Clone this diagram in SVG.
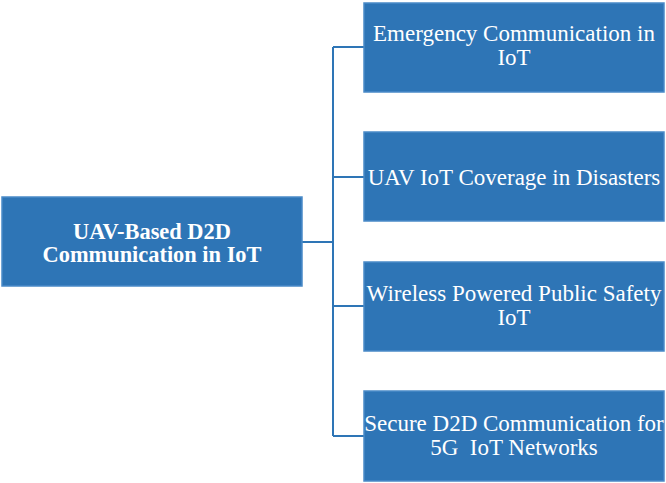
<svg xmlns="http://www.w3.org/2000/svg" width="666" height="483" viewBox="0 0 666 483">
<style>
.box{fill:#2E75B6;stroke:#4A8AC8;stroke-width:1.5}
.t{font-family:"Liberation Serif","Times New Roman",serif;fill:#fff;font-size:23px;text-anchor:middle}
.b{font-weight:bold;font-size:22.4px}
.c{fill:none;stroke:#2E75B6;stroke-width:2}
</style>
<rect width="666" height="483" fill="#fff"/>
<g id="connectors">
<path class="c" d="M302 242H333M333 47V436M333 47H364M333 177H364M333 306H364M333 436H364"/>
</g>
<g id="root">
<rect class="box" x="2" y="197" width="300" height="89"/>
<text class="t b" x="152" y="239">UAV-Based D2D</text>
<text class="t b" x="152" y="262">Communication in IoT</text>
</g>
<g id="n1">
<rect class="box" x="364" y="3" width="300" height="89"/>
<text class="t" x="514" y="41">Emergency Communication in</text>
<text class="t" x="514" y="65">IoT</text>
</g>
<g id="n2">
<rect class="box" x="364" y="132" width="300" height="89"/>
<text class="t" x="514" y="185">UAV IoT Coverage in Disasters</text>
</g>
<g id="n3">
<rect class="box" x="364" y="262" width="300" height="89"/>
<text class="t" x="514" y="301">Wireless Powered Public Safety</text>
<text class="t" x="514" y="325">IoT</text>
</g>
<g id="n4">
<rect class="box" x="364" y="391" width="300" height="90"/>
<text class="t" x="514" y="431">Secure D2D Communication for</text>
<text class="t" x="514" y="455" xml:space="preserve">5G  IoT Networks</text>
</g>
</svg>
